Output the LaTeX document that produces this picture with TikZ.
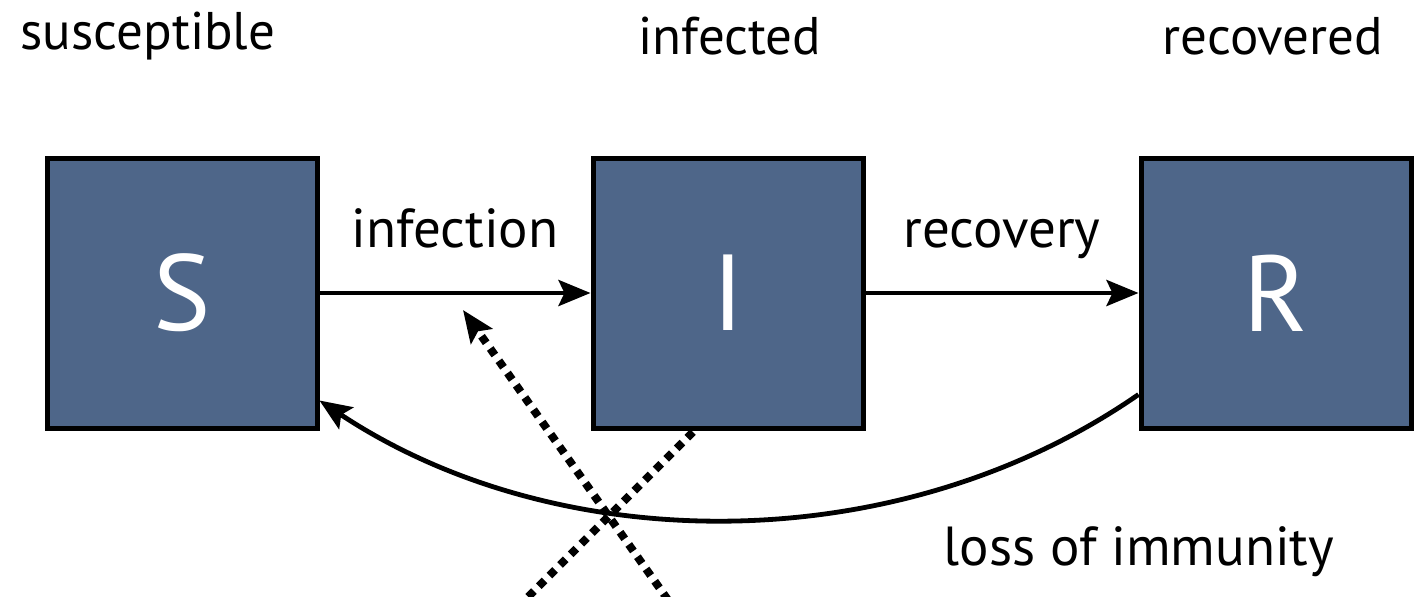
\documentclass[tikz,border=0pt]{standalone}
\usepackage{fontspec}
\setmainfont{PT Sans}
\usetikzlibrary{arrows.meta,positioning,calc}
\definecolor{sirslate}{HTML}{4E6689}

\begin{document}
\begin{tikzpicture}[x=0.5pt, y=-0.5pt,
  comp/.style={rectangle, draw=black, fill=sirslate, line width=2.5pt,
               minimum width=135pt, minimum height=135pt, inner sep=0pt,
               font=\fontsize{54}{58}\selectfont, text=white},
  toplbl/.style={font=\fontsize{26.5}{30}\selectfont, text=black},
  flowlbl/.style={font=\fontsize{27.5}{30}\selectfont, text=black},
  flow/.style={-{Stealth[length=16pt, width=13pt, inset=3pt]}, line width=2.4pt},
  cut/.style={line width=4pt, dash pattern=on 4pt off 3.5pt},
]
\useasboundingbox (0,0) rectangle (1417,596);

%% ---- compartimentos ----
\node[comp] (S) at (182,293) {S};
\node[comp] (I) at (728,293) {I};
\node[comp] (R) at (1276,293) {R};

%% ---- etiquetas superiores ----
\node[toplbl] (sus) at (148,36) {susceptible};
\node[toplbl] (inf) at (730,36) {infected};
\node[toplbl] (rec) at (1273,36) {recovered};

%% ---- flujos ----
\draw[flow] (S.east) -- (I.west)
  node[midway, anchor=base, yshift=23pt, flowlbl] (infection) {infection};
\draw[flow] (I.east) -- (R.west)
  node[midway, anchor=base, yshift=23pt, flowlbl] (recovery) {recovery};

% perdida de inmunidad: R vuelve a S
\draw[flow] ([yshift=18pt]R.south west)
  .. controls (900,560) and (560,560) .. ([yshift=15pt]S.south east);
\node[flowlbl, anchor=base] (loss) at (1139,565) {loss of immunity};

%% ---- cruz punteada ----
\coordinate (crossA) at (668,600);
\coordinate (tipA) at (463,310);
\coordinate (startB) at (693,432);
\coordinate (crossB) at (525,600);
\draw[cut, -{Stealth[length=16pt, width=13pt, inset=3pt]}] (crossA) -- (tipA);
\draw[cut] (startB) -- (crossB);

\end{tikzpicture}
\end{document}
